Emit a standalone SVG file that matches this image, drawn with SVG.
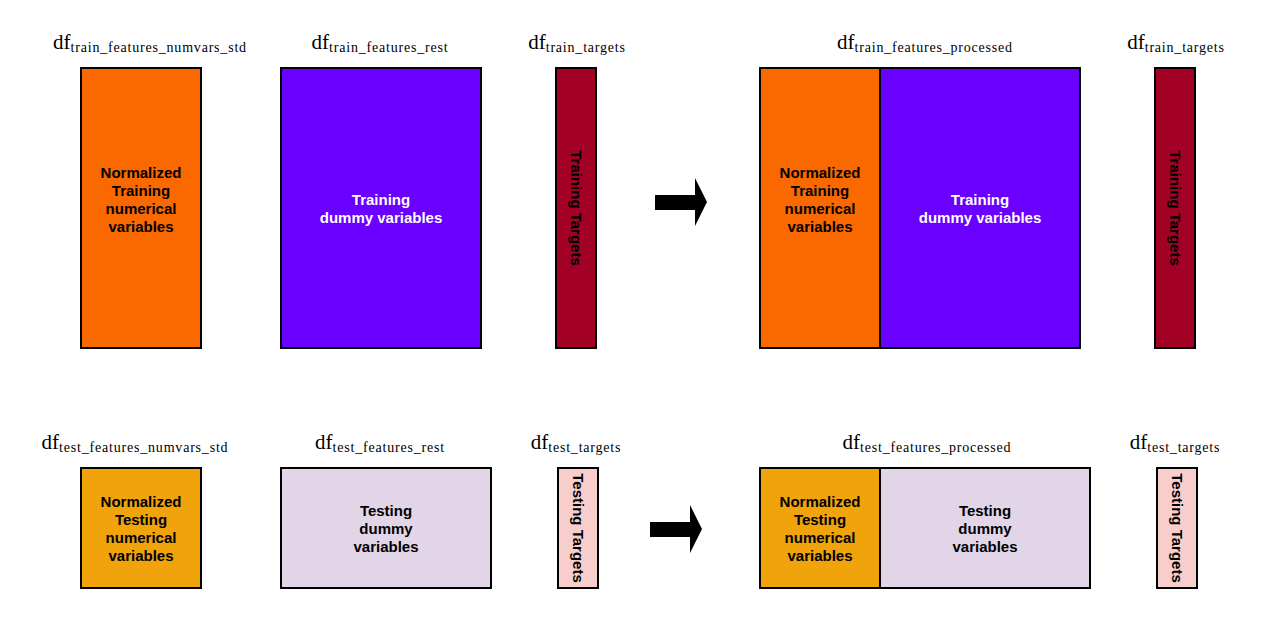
<svg xmlns="http://www.w3.org/2000/svg" width="1263" height="628" viewBox="0 0 1263 628">
<style>
.box{stroke:#000;stroke-width:2}
.lbl{font-family:"Liberation Serif",serif;text-anchor:middle;fill:#000}
.df{font-size:21px}
.sub{font-size:14px;letter-spacing:0.8px}
.t{font-family:"Liberation Sans",Arial,sans-serif;font-weight:bold;font-size:15px;text-anchor:middle}
.w{fill:#fff}
.k{fill:#000}
.arrow{fill:#000}
</style>
<rect width="1263" height="628" fill="#fff"/>
<g id="train-numvars">
<text class="lbl" x="150" y="49"><tspan class="df">df</tspan><tspan class="sub" dy="3">train_features_numvars_std</tspan></text>
<rect class="box" x="81" y="68" width="120" height="280" fill="#FA6800"/>
<text class="t k" x="141" y="178"><tspan x="141">Normalized</tspan><tspan x="141" dy="18">Training</tspan><tspan x="141" dy="18">numerical</tspan><tspan x="141" dy="18">variables</tspan></text>
</g>
<g id="train-rest">
<text class="lbl" x="380" y="49"><tspan class="df">df</tspan><tspan class="sub" dy="3">train_features_rest</tspan></text>
<rect class="box" x="281" y="68" width="200" height="280" fill="#6A00FF"/>
<text class="t w" x="381" y="205"><tspan x="381">Training</tspan><tspan x="381" dy="18">dummy variables</tspan></text>
</g>
<g id="train-targets">
<text class="lbl" x="577" y="49"><tspan class="df">df</tspan><tspan class="sub" dy="3">train_targets</tspan></text>
<rect class="box" x="556" y="68" width="40" height="280" fill="#A20025"/>
<text class="t k" transform="translate(571,208) rotate(90)" x="0" y="0">Training Targets</text>
</g>
<g id="train-processed">
<text class="lbl" x="925" y="49"><tspan class="df">df</tspan><tspan class="sub" dy="3">train_features_processed</tspan></text>
<rect class="box" x="760" y="68" width="120" height="280" fill="#FA6800"/>
<rect class="box" x="880" y="68" width="200" height="280" fill="#6A00FF"/>
<text class="t k" x="820" y="178"><tspan x="820">Normalized</tspan><tspan x="820" dy="18">Training</tspan><tspan x="820" dy="18">numerical</tspan><tspan x="820" dy="18">variables</tspan></text>
<text class="t w" x="980" y="205"><tspan x="980">Training</tspan><tspan x="980" dy="18">dummy variables</tspan></text>
</g>
<g id="train-targets-2">
<text class="lbl" x="1176" y="49"><tspan class="df">df</tspan><tspan class="sub" dy="3">train_targets</tspan></text>
<rect class="box" x="1155" y="68" width="40" height="280" fill="#A20025"/>
<text class="t k" transform="translate(1170,208) rotate(90)" x="0" y="0">Training Targets</text>
</g>
<g id="test-numvars">
<text class="lbl" x="135" y="449"><tspan class="df">df</tspan><tspan class="sub" dy="3">test_features_numvars_std</tspan></text>
<rect class="box" x="81" y="468" width="120" height="120" fill="#F0A30A"/>
<text class="t k" x="141" y="507"><tspan x="141">Normalized</tspan><tspan x="141" dy="18">Testing</tspan><tspan x="141" dy="18">numerical</tspan><tspan x="141" dy="18">variables</tspan></text>
</g>
<g id="test-rest">
<text class="lbl" x="380" y="449"><tspan class="df">df</tspan><tspan class="sub" dy="3">test_features_rest</tspan></text>
<rect class="box" x="281" y="468" width="210" height="120" fill="#E1D5E7"/>
<text class="t k" x="386" y="516"><tspan x="386">Testing</tspan><tspan x="386" dy="18">dummy</tspan><tspan x="386" dy="18">variables</tspan></text>
</g>
<g id="test-targets">
<text class="lbl" x="576" y="449"><tspan class="df">df</tspan><tspan class="sub" dy="3">test_targets</tspan></text>
<rect class="box" x="558" y="468" width="40" height="120" fill="#F8CECC"/>
<text class="t k" transform="translate(573,528) rotate(90)" x="0" y="0">Testing Targets</text>
</g>
<g id="test-processed">
<text class="lbl" x="927" y="449"><tspan class="df">df</tspan><tspan class="sub" dy="3">test_features_processed</tspan></text>
<rect class="box" x="760" y="468" width="120" height="120" fill="#F0A30A"/>
<rect class="box" x="880" y="468" width="210" height="120" fill="#E1D5E7"/>
<text class="t k" x="820" y="507"><tspan x="820">Normalized</tspan><tspan x="820" dy="18">Testing</tspan><tspan x="820" dy="18">numerical</tspan><tspan x="820" dy="18">variables</tspan></text>
<text class="t k" x="985" y="516"><tspan x="985">Testing</tspan><tspan x="985" dy="18">dummy</tspan><tspan x="985" dy="18">variables</tspan></text>
</g>
<g id="test-targets-2">
<text class="lbl" x="1175" y="449"><tspan class="df">df</tspan><tspan class="sub" dy="3">test_targets</tspan></text>
<rect class="box" x="1157" y="468" width="40" height="120" fill="#F8CECC"/>
<text class="t k" transform="translate(1172,528) rotate(90)" x="0" y="0">Testing Targets</text>
</g>
<g id="connectors">
<polygon class="arrow" points="655,195 695,195 695,178 707,202 695,226 695,210 655,210"/>
<polygon class="arrow" points="650,522 690,522 690,505 702,529 690,553 690,537 650,537"/>
</g>
</svg>
